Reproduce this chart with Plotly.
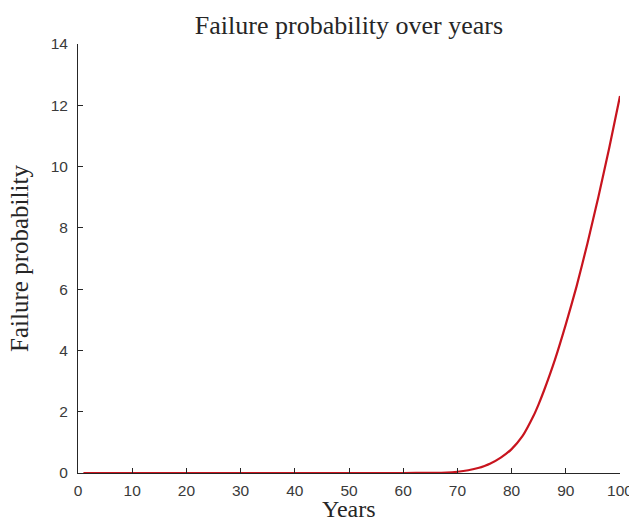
import plotly.graph_objects as go

# Data
years = [1, 10, 20, 30, 40, 50, 60, 65, 68, 70, 72, 74, 75, 76, 78, 80, 82, 84, 85, 86, 88, 90, 92, 94, 95, 96, 98, 100]
failure_prob = [0, 0, 0, 0, 0, 0, 0, 0.003, 0.012, 0.04, 0.09, 0.17, 0.23, 0.30, 0.50, 0.78, 1.20, 1.85, 2.25, 2.70, 3.70, 4.85, 6.10, 7.50, 8.25, 9.00, 10.60, 12.30]

x_ticks = [0, 10, 20, 30, 40, 50, 60, 70, 80, 90, 100]
y_ticks = [0, 2, 4, 6, 8, 10, 12, 14]

axis_color = "#262626"
label_color = "#3a3a3a"

fig = go.Figure()
fig.add_trace(go.Scatter(
    x=years, y=failure_prob, mode="lines",
    line=dict(color="#C8141E", width=2.2, shape="spline", smoothing=0.6),
    showlegend=False,
))

fig.update_layout(
    width=629, height=520,
    margin=dict(l=78, r=9, t=44, b=47, autoexpand=False),
    paper_bgcolor="white", plot_bgcolor="white",
    title=dict(
        text="Failure probability over years",
        font=dict(family="Liberation Serif", size=26, color=axis_color),
        x=0.5, xanchor="center", xref="paper",
        y=1 - 25 / 520, yanchor="middle", yref="container",
    ),
    xaxis=dict(
        range=[0, 100], tickvals=x_ticks, ticktext=[str(v) for v in x_ticks],
        ticks="inside", ticklen=5, tickcolor=axis_color, tickwidth=1,
        showline=True, linecolor=axis_color, linewidth=1,
        showgrid=False, zeroline=False, automargin=False,
        ticklabeloverflow="allow", ticklabelstandoff=3,
        tickfont=dict(family="Liberation Sans", size=15.5, color=label_color),
    ),
    yaxis=dict(
        range=[0, 14], tickvals=y_ticks, ticktext=[str(v) for v in y_ticks],
        ticks="inside", ticklen=5, tickcolor=axis_color, tickwidth=1,
        showline=True, linecolor=axis_color, linewidth=1,
        showgrid=False, zeroline=False, automargin=False,
        ticklabelstandoff=6, ticklabeloverflow="allow",
        tickfont=dict(family="Liberation Sans", size=15.5, color=label_color),
        title=dict(text="Failure probability", font=dict(family="Liberation Serif", size=25, color=axis_color), standoff=14),
    ),
    annotations=[dict(
        text="Years", xref="paper", yref="paper", x=0.5, y=0,
        xanchor="center", yanchor="top", yshift=-21, showarrow=False,
        font=dict(family="Liberation Serif", size=24, color=axis_color),
    )],
)

fig.write_html("out.html")
